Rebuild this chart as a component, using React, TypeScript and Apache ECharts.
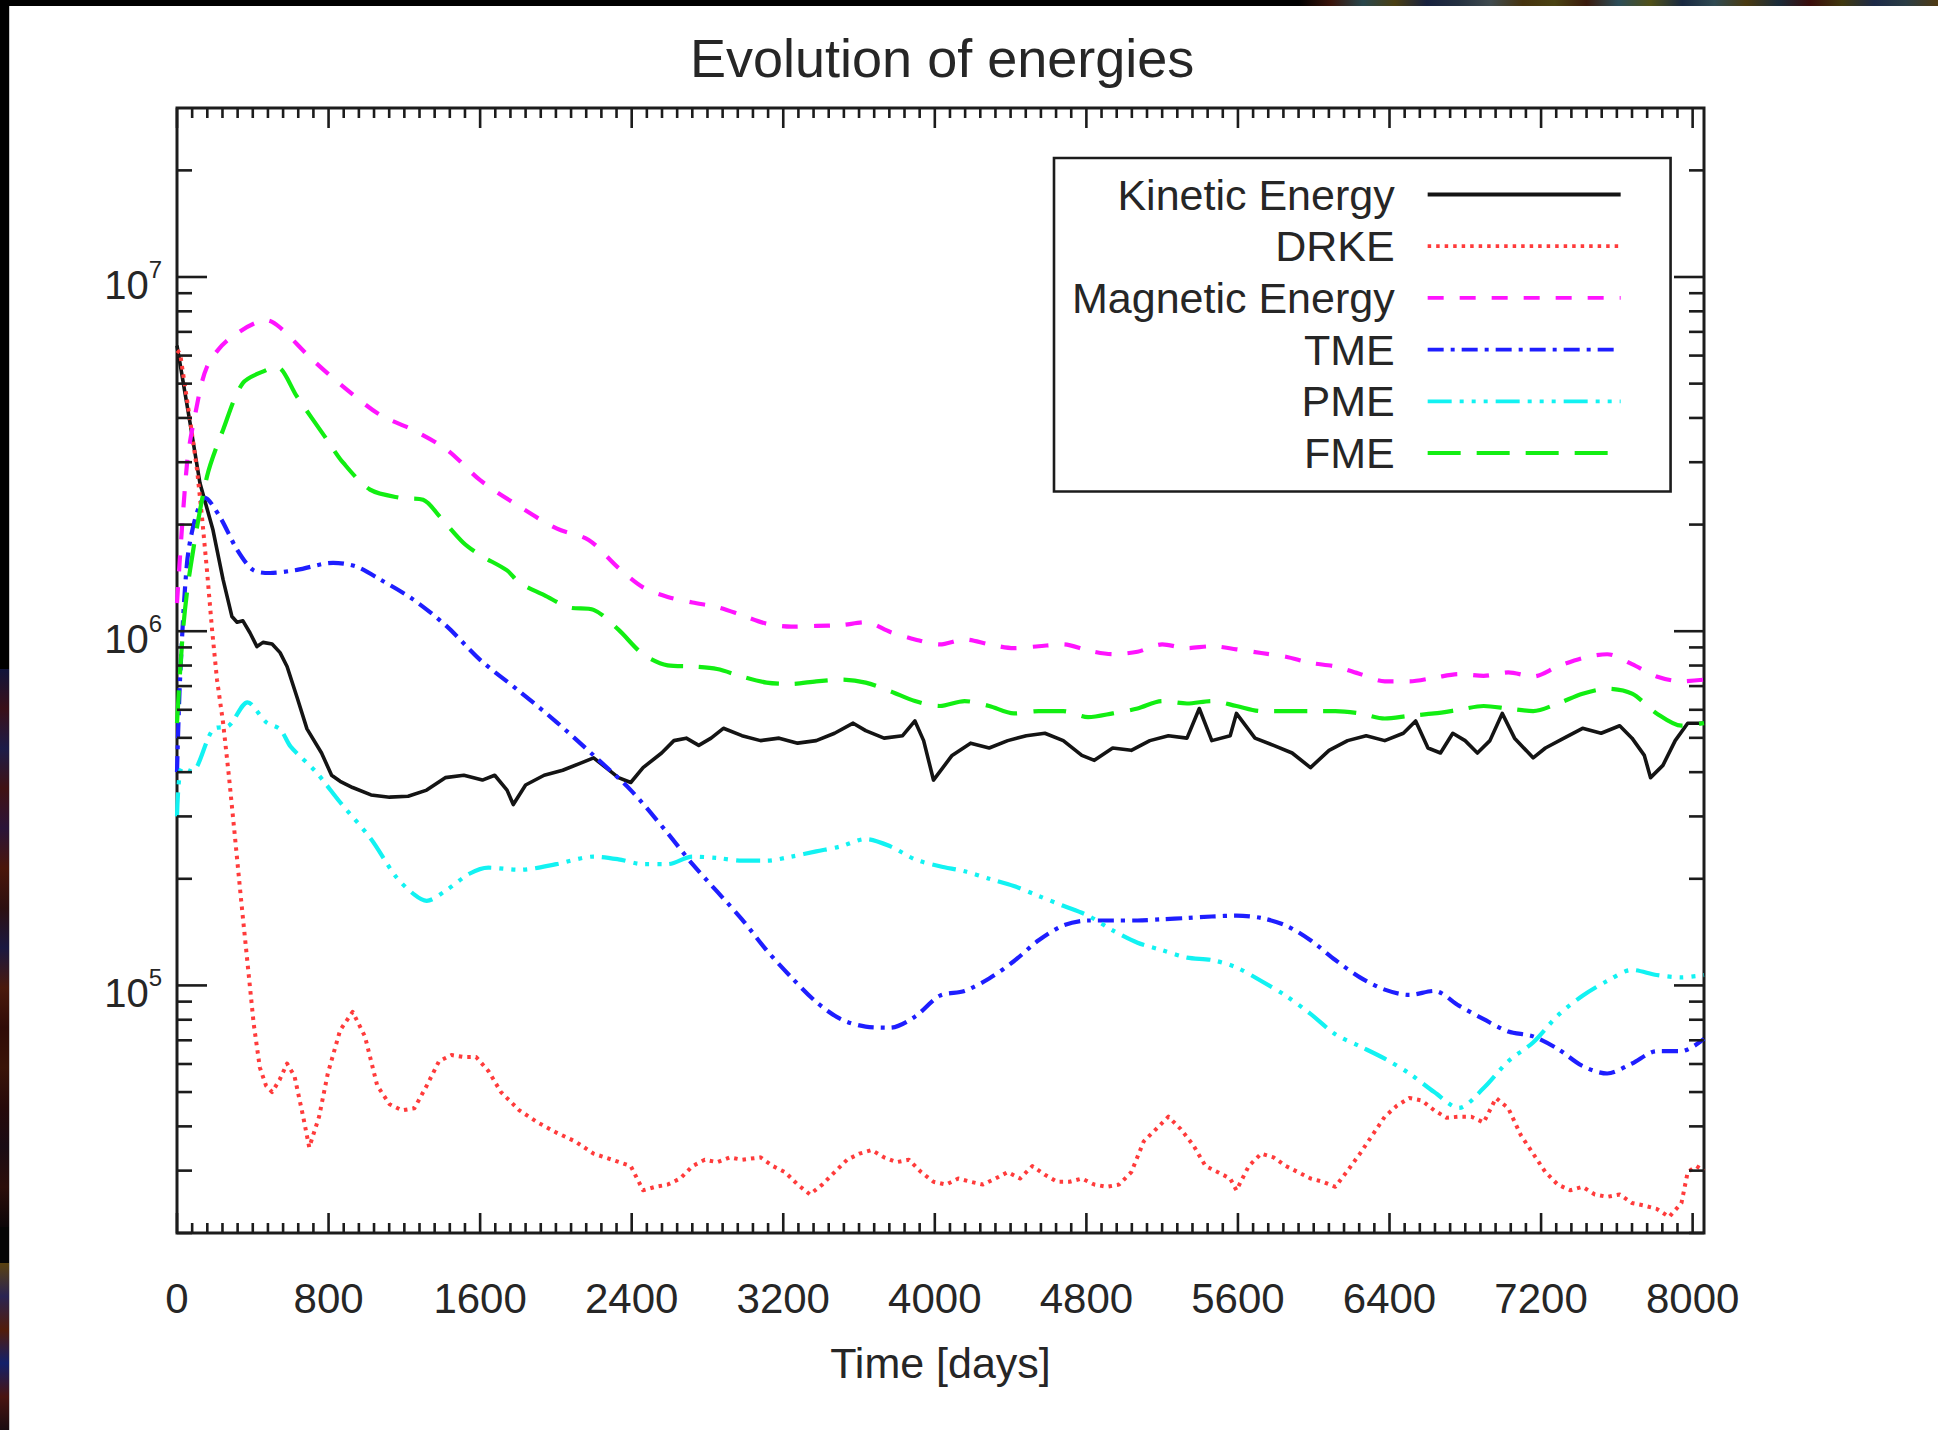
import React, { useEffect, useRef } from 'react';
import * as echarts from 'echarts';

// ---- texts -------------------------------------------------------------
const TITLE = 'Evolution of energies';
const X_NAME = 'Time [days]';
const SERIES_NAMES = ['Kinetic Energy', 'DRKE', 'Magnetic Energy', 'TME', 'PME', 'FME'];

// ---- axes ---------------------------------------------------------------
const X_MIN = 0;
const X_MAX = 8060;
const Y_MIN = 2e4;
const Y_MAX = 3e7;
const xMajorTicks = [0, 800, 1600, 2400, 3200, 4000, 4800, 5600, 6400, 7200, 8000];
const xMinorStep = 80;
const yDecades = [1e4, 1e5, 1e6, 1e7];
const yLabelledExponents = [5, 6, 7];
const yMantissas = [2, 3, 4, 5, 6, 7, 8, 9];

// ---- series values: [time in days, energy] ------------------------------
const kineticEnergy: [number, number][] = [
  [0, 6.4e6], [69, 3.87e6], [121, 2.62e6], [190, 1.93e6], [243, 1.4e6], [290, 1.1e6],
  [317, 1.06e6], [348, 1.07e6], [385, 9.9e5], [422, 9.05e5], [454, 9.3e5], [502, 9.2e5],
  [544, 8.7e5], [581, 7.95e5], [634, 6.5e5], [686, 5.3e5], [763, 4.53e5], [816, 3.92e5],
  [861, 3.77e5], [927, 3.62e5], [1024, 3.45e5], [1122, 3.4e5], [1220, 3.42e5], [1318, 3.56e5],
  [1416, 3.86e5], [1514, 3.92e5], [1612, 3.8e5], [1677, 3.92e5], [1742, 3.56e5], [1775, 3.24e5],
  [1840, 3.68e5], [1938, 3.92e5], [2036, 4.05e5], [2134, 4.25e5], [2199, 4.39e5], [2264, 4.12e5],
  [2330, 3.86e5], [2395, 3.74e5], [2460, 4.12e5], [2558, 4.53e5], [2623, 4.91e5], [2688, 4.99e5],
  [2754, 4.76e5], [2819, 4.99e5], [2884, 5.32e5], [2982, 5.07e5], [3080, 4.91e5], [3178, 4.99e5],
  [3276, 4.83e5], [3374, 4.91e5], [3471, 5.15e5], [3569, 5.5e5], [3635, 5.24e5], [3732, 4.99e5],
  [3830, 5.07e5], [3895, 5.58e5], [3941, 4.91e5], [3993, 3.8e5], [4091, 4.46e5], [4189, 4.83e5],
  [4287, 4.68e5], [4385, 4.91e5], [4483, 5.07e5], [4581, 5.15e5], [4678, 4.91e5], [4776, 4.46e5],
  [4842, 4.32e5], [4939, 4.68e5], [5037, 4.61e5], [5135, 4.91e5], [5233, 5.07e5], [5331, 4.99e5],
  [5396, 6.05e5], [5462, 4.91e5], [5559, 5.07e5], [5592, 5.86e5], [5690, 4.99e5], [5788, 4.76e5],
  [5886, 4.53e5], [5983, 4.12e5], [6081, 4.61e5], [6179, 4.91e5], [6277, 5.07e5], [6375, 4.91e5],
  [6473, 5.15e5], [6538, 5.58e5], [6603, 4.68e5], [6669, 4.53e5], [6734, 5.15e5], [6799, 4.91e5],
  [6864, 4.53e5], [6930, 4.91e5], [6995, 5.86e5], [7060, 4.99e5], [7158, 4.39e5], [7223, 4.68e5],
  [7321, 4.99e5], [7419, 5.32e5], [7517, 5.15e5], [7615, 5.41e5], [7680, 4.99e5], [7745, 4.46e5],
  [7778, 3.86e5], [7843, 4.18e5], [7908, 4.91e5], [7974, 5.5e5], [8060, 5.5e5],
];

const drke: [number, number][] = [
  [0, 6.2e6], [16, 6.1e6], [69, 3.94e6], [106, 2.85e6], [132, 2.1e6], [158, 1.49e6],
  [185, 1.01e6], [211, 7.31e5], [243, 5.53e5], [274, 3.9e5], [307, 2.59e5], [339, 1.73e5],
  [372, 1.16e5], [405, 7.78e4], [437, 5.87e4], [470, 5.21e4], [502, 5.0e4], [542, 5.42e4],
  [581, 6.02e4], [620, 5.55e4], [666, 4.26e4], [698, 3.49e4], [750, 4.26e4], [796, 5.64e4],
  [861, 7.47e4], [927, 8.42e4], [992, 7.18e4], [1057, 5.21e4], [1122, 4.62e4], [1188, 4.44e4],
  [1253, 4.5e4], [1318, 5.21e4], [1383, 6.11e4], [1449, 6.36e4], [1514, 6.28e4], [1579, 6.28e4],
  [1644, 5.73e4], [1710, 5.0e4], [1807, 4.44e4], [1905, 4.1e4], [2003, 3.84e4], [2101, 3.63e4],
  [2199, 3.35e4], [2297, 3.22e4], [2395, 3.09e4], [2460, 2.64e4], [2525, 2.7e4], [2590, 2.74e4],
  [2656, 2.85e4], [2721, 3.09e4], [2786, 3.22e4], [2851, 3.17e4], [2917, 3.27e4], [2982, 3.22e4],
  [3080, 3.27e4], [3145, 3.09e4], [3210, 2.97e4], [3276, 2.74e4], [3341, 2.57e4], [3406, 2.74e4],
  [3471, 2.97e4], [3537, 3.22e4], [3602, 3.35e4], [3667, 3.43e4], [3732, 3.27e4], [3798, 3.17e4],
  [3863, 3.22e4], [3928, 2.97e4], [3993, 2.79e4], [4059, 2.74e4], [4124, 2.85e4], [4189, 2.79e4],
  [4254, 2.74e4], [4320, 2.85e4], [4385, 2.97e4], [4450, 2.85e4], [4515, 3.09e4], [4581, 2.92e4],
  [4646, 2.79e4], [4711, 2.79e4], [4776, 2.85e4], [4842, 2.74e4], [4907, 2.7e4], [4972, 2.74e4],
  [5037, 2.97e4], [5103, 3.63e4], [5168, 3.93e4], [5233, 4.26e4], [5298, 3.93e4], [5364, 3.54e4],
  [5429, 3.09e4], [5494, 2.97e4], [5559, 2.85e4], [5592, 2.64e4], [5657, 3.09e4], [5723, 3.35e4],
  [5788, 3.27e4], [5853, 3.09e4], [5918, 2.97e4], [5983, 2.85e4], [6049, 2.79e4], [6114, 2.7e4],
  [6179, 3.0e4], [6244, 3.35e4], [6310, 3.78e4], [6375, 4.26e4], [6440, 4.58e4], [6505, 4.81e4],
  [6571, 4.73e4], [6636, 4.44e4], [6701, 4.23e4], [6766, 4.26e4], [6832, 4.26e4], [6897, 4.1e4],
  [6962, 4.81e4], [7027, 4.5e4], [7093, 3.78e4], [7158, 3.35e4], [7223, 2.97e4], [7288, 2.74e4],
  [7354, 2.64e4], [7419, 2.7e4], [7484, 2.57e4], [7549, 2.53e4], [7615, 2.57e4], [7680, 2.43e4],
  [7745, 2.39e4], [7810, 2.34e4], [7876, 2.22e4], [7941, 2.43e4], [7974, 2.97e4], [8020, 3.09e4],
  [8060, 3.0e4],
];

const magneticEnergy: [number, number][] = [
  [0, 1.2e6], [53, 2.98e6], [95, 4.07e6], [158, 5.57e6], [269, 6.64e6], [475, 7.55e6],
  [544, 7.2e6], [718, 5.82e6], [898, 4.8e6], [1072, 4.08e6], [1246, 3.7e6], [1426, 3.25e6],
  [1600, 2.67e6], [1807, 2.25e6], [2003, 1.95e6], [2173, 1.81e6], [2330, 1.51e6], [2460, 1.33e6],
  [2590, 1.25e6], [2721, 1.205e6], [2851, 1.17e6], [2982, 1.11e6], [3112, 1.05e6], [3243, 1.03e6],
  [3374, 1.035e6], [3504, 1.04e6], [3635, 1.06e6], [3765, 9.95e5], [3895, 9.48e5], [4026, 9.18e5],
  [4157, 9.48e5], [4287, 9.18e5], [4417, 8.96e5], [4548, 9.07e5], [4678, 9.18e5], [4809, 8.82e5],
  [4939, 8.61e5], [5070, 8.75e5], [5200, 9.18e5], [5331, 8.96e5], [5462, 9.07e5], [5592, 8.89e5],
  [5723, 8.68e5], [5853, 8.47e5], [5983, 8.14e5], [6114, 7.95e5], [6244, 7.57e5], [6375, 7.22e5],
  [6505, 7.22e5], [6636, 7.39e5], [6766, 7.57e5], [6897, 7.48e5], [7027, 7.65e5], [7158, 7.45e5],
  [7288, 7.95e5], [7419, 8.4e5], [7549, 8.61e5], [7680, 8.07e5], [7810, 7.45e5], [7941, 7.22e5],
  [8060, 7.3e5],
];

const tme: [number, number][] = [
  [0, 4.0e5], [16, 7.3e5], [53, 1.56e6], [95, 2.07e6], [148, 2.38e6], [227, 2.1e6],
  [317, 1.7e6], [401, 1.49e6], [491, 1.46e6], [634, 1.49e6], [824, 1.56e6], [950, 1.52e6],
  [1072, 1.4e6], [1246, 1.23e6], [1426, 1.03e6], [1600, 8.3e5], [1807, 6.77e5], [2003, 5.54e5],
  [2199, 4.46e5], [2395, 3.56e5], [2590, 2.69e5], [2721, 2.2e5], [2982, 1.537e5], [3112, 1.257e5],
  [3243, 1.054e5], [3374, 8.98e4], [3504, 8.03e4], [3635, 7.65e4], [3765, 7.6e4], [3895, 8.16e4],
  [4026, 9.35e4], [4157, 9.65e4], [4287, 1.046e5], [4417, 1.17e5], [4548, 1.341e5], [4678, 1.476e5],
  [4809, 1.525e5], [4939, 1.525e5], [5070, 1.525e5], [5200, 1.537e5], [5331, 1.55e5], [5462, 1.565e5],
  [5592, 1.574e5], [5723, 1.55e5], [5853, 1.476e5], [5983, 1.341e5], [6114, 1.18e5], [6244, 1.054e5],
  [6375, 9.73e4], [6505, 9.4e4], [6636, 9.65e4], [6766, 8.77e4], [6897, 8.03e4], [7027, 7.41e4],
  [7158, 7.18e4], [7288, 6.62e4], [7419, 5.92e4], [7549, 5.64e4], [7680, 6.02e4], [7810, 6.52e4],
  [7941, 6.52e4], [8060, 7.06e4],
];

const pme: [number, number][] = [
  [0, 3.0e5], [26, 4.12e5], [78, 4.02e5], [190, 5.28e5], [274, 5.41e5], [372, 6.3e5],
  [470, 5.54e5], [545, 5.28e5], [600, 4.72e5], [731, 4.02e5], [861, 3.29e5], [1024, 2.59e5],
  [1155, 2.03e5], [1253, 1.804e5], [1318, 1.733e5], [1416, 1.848e5], [1546, 2.07e5], [1644, 2.15e5],
  [1807, 2.12e5], [2003, 2.2e5], [2199, 2.31e5], [2330, 2.27e5], [2460, 2.2e5], [2590, 2.2e5],
  [2721, 2.31e5], [2851, 2.29e5], [2982, 2.25e5], [3112, 2.25e5], [3243, 2.31e5], [3374, 2.39e5],
  [3504, 2.47e5], [3635, 2.59e5], [3765, 2.47e5], [3895, 2.27e5], [4026, 2.17e5], [4157, 2.1e5],
  [4287, 2.0e5], [4417, 1.908e5], [4548, 1.789e5], [4678, 1.678e5], [4809, 1.574e5], [4939, 1.43e5],
  [5070, 1.32e5], [5200, 1.257e5], [5331, 1.198e5], [5462, 1.18e5], [5592, 1.124e5], [5723, 1.029e5],
  [5853, 9.35e4], [5983, 8.31e4], [6114, 7.28e4], [6244, 6.73e4], [6375, 6.21e4], [6505, 5.64e4],
  [6636, 5.0e4], [6766, 4.51e4], [6897, 5.13e4], [7027, 6.11e4], [7158, 6.9e4], [7288, 8.22e4],
  [7419, 9.35e4], [7549, 1.029e5], [7680, 1.106e5], [7810, 1.07e5], [7941, 1.054e5], [8060, 1.07e5],
];

const fme: [number, number][] = [
  [0, 5.5e5], [32, 1.01e6], [69, 1.49e6], [158, 2.73e6], [243, 3.7e6], [348, 5.02e6],
  [475, 5.47e6], [528, 5.57e6], [634, 4.59e6], [792, 3.47e6], [877, 2.99e6], [1019, 2.51e6],
  [1178, 2.38e6], [1299, 2.35e6], [1389, 2.1e6], [1510, 1.78e6], [1600, 1.64e6], [1742, 1.485e6],
  [1807, 1.37e6], [1938, 1.265e6], [2068, 1.168e6], [2199, 1.149e6], [2330, 1.01e6], [2460, 8.61e5],
  [2590, 8.01e5], [2721, 7.95e5], [2851, 7.82e5], [2982, 7.45e5], [3112, 7.16e5], [3243, 7.1e5],
  [3374, 7.22e5], [3504, 7.3e5], [3635, 7.16e5], [3765, 6.77e5], [3895, 6.35e5], [4026, 6.15e5],
  [4157, 6.35e5], [4287, 6.15e5], [4417, 5.86e5], [4548, 5.95e5], [4678, 5.95e5], [4809, 5.72e5],
  [4939, 5.86e5], [5070, 6.05e5], [5200, 6.35e5], [5331, 6.25e5], [5462, 6.35e5], [5592, 6.15e5],
  [5723, 5.95e5], [5853, 5.95e5], [5983, 5.95e5], [6114, 5.95e5], [6244, 5.86e5], [6375, 5.67e5],
  [6505, 5.77e5], [6636, 5.86e5], [6766, 6.0e5], [6897, 6.15e5], [7027, 6.05e5], [7158, 5.95e5],
  [7288, 6.25e5], [7419, 6.66e5], [7549, 6.88e5], [7680, 6.66e5], [7810, 5.86e5], [7941, 5.41e5],
  [8060, 5.5e5],
];

// ---- styling -------------------------------------------------------------
const FONT = '"Liberation Sans", Arial, Helvetica, sans-serif';
const INK = '#1c1c1c';
const TEXT = '#262626';

const seriesStyles = [
  { color: '#141414', width: 3.6, type: 'solid' as any, smooth: false },
  { color: '#ff3b3b', width: 4, type: [3.5, 5], smooth: false },
  { color: '#ff14ff', width: 4.2, type: [16, 16], smooth: 0.3 },
  { color: '#1e1eff', width: 4.2, type: [16, 7, 4, 7], smooth: 0.3 },
  { color: '#12f2f2', width: 4.2, type: [24, 8, 4, 8, 4, 8, 4, 8], smooth: 0.3 },
  { color: '#12ee12', width: 4.2, type: [33, 16], smooth: 0.3 },
];
const seriesData = [kineticEnergy, drke, magneticEnergy, tme, pme, fme];

// Tick marks drawn inside the frame on all four sides
function buildXTicks(): [number, number, number][] {
  const out: [number, number, number][] = [];
  for (let i = 0; i < xMajorTicks.length; i++) {
    const m = xMajorTicks[i];
    out.push([m, 1e5, 20]);
    if (i < xMajorTicks.length - 1) {
      for (let t = m + xMinorStep; t < xMajorTicks[i + 1]; t += xMinorStep) out.push([t, 1e5, 10]);
    }
  }
  return out;
}
function buildYTicks(): [number, number, number][] {
  const out: [number, number, number][] = [];
  yDecades.forEach((d) => {
    if (d >= Y_MIN && d <= Y_MAX) out.push([X_MIN, d, 30]);
    yMantissas.forEach((m) => {
      const v = m * d;
      if (v >= Y_MIN && v < Y_MAX) out.push([X_MIN, v, 15]);
    });
  });
  return out;
}

const tickStyle = { stroke: INK, lineWidth: 2.6 };

function makeOption(): echarts.EChartsCoreOption {
  const topStops = [
    '#000000', '#3a140a', '#28464c', '#4a3e12', '#17213e', '#243040', '#3f4a4e', '#46330e',
    '#4a4212', '#3a1a0c', '#2c4d58', '#505018', '#182840', '#2f4a52', '#4a3a10', '#1a2c3a',
    '#3a0c0a', '#40380e', '#1c2a48', '#2a3c44', '#503a12',
  ];
  const leftStops = [
    '#10143a', '#3a1018', '#1c1c48', '#401212', '#2a1438', '#4a160a', '#2c1010', '#1a1840',
    '#4a1a0c', '#300c08', '#3a1408', '#260a0a', '#1a0c14', '#2c0e0a', '#0c0608',
  ];
  const leftStops2 = ['#5a4210', '#2a2452', '#521c0a', '#12206a', '#4a1410', '#1a0c10'];
  const grad = (stops: string[], vertical: boolean) => ({
    type: 'linear', x: 0, y: 0, x2: vertical ? 0 : 1, y2: vertical ? 1 : 0,
    colorStops: stops.map((c, i) => ({ offset: i / (stops.length - 1), color: c })),
  });

  return {
    animation: false,
    backgroundColor: '#ffffff',
    title: {
      text: TITLE,
      left: 690,
      top: 31,
      padding: 0,
      textStyle: { fontFamily: FONT, fontSize: 54, fontWeight: 'normal', color: TEXT },
    },
    legend: {
      data: SERIES_NAMES,
      orient: 'vertical',
      left: 1054,
      top: 158,
      align: 'right',
      itemWidth: 193,
      itemHeight: 20,
      itemGap: 8.7,
      padding: [15, 48, 17, 18],
      borderColor: INK,
      borderWidth: 2.6,
      backgroundColor: '#ffffff',
      selectedMode: false,
      itemStyle: { opacity: 0, color: 'rgba(0,0,0,0)', borderWidth: 0 },
      lineStyle: { width: 3.8 },
      formatter: '{n|{name}}',
      textStyle: {
        fontFamily: FONT,
        fontSize: 43,
        color: TEXT,
        rich: {
          n: { fontFamily: FONT, fontSize: 43, color: TEXT, lineHeight: 44, padding: [0, 28, 0, 0] },
        },
      },
    },
    grid: {
      left: 177,
      top: 108,
      width: 1527,
      height: 1125,
      show: true,
      borderColor: INK,
      borderWidth: 3,
      backgroundColor: 'transparent',
    },
    xAxis: {
      type: 'value',
      min: X_MIN,
      max: X_MAX,
      interval: 800,
      name: X_NAME,
      nameLocation: 'middle',
      nameGap: 108,
      nameTextStyle: { fontFamily: FONT, fontSize: 43, color: TEXT },
      axisLine: { show: false },
      axisTick: { show: false },
      splitLine: { show: false },
      axisLabel: {
        margin: 44,
        fontFamily: FONT,
        fontSize: 42,
        color: TEXT,
        formatter: (v: number) => (xMajorTicks.indexOf(v) >= 0 ? String(v) : ''),
      },
    },
    yAxis: {
      type: 'log',
      logBase: 10,
      min: Y_MIN,
      max: Y_MAX,
      axisLine: { show: false },
      axisTick: { show: false },
      splitLine: { show: false },
      axisLabel: {
        margin: 15,
        formatter: (v: number) => {
          const e = Math.log10(v);
          const r = Math.round(e);
          if (Math.abs(e - r) > 1e-6 || yLabelledExponents.indexOf(r) < 0) return '';
          return `{b|10}{s|${r}}`;
        },
        rich: {
          b: { fontFamily: FONT, fontSize: 40, color: TEXT, lineHeight: 40, padding: [16, 0, 0, 0] },
          s: { fontFamily: FONT, fontSize: 24, color: TEXT, lineHeight: 24, verticalAlign: 'top' },
        },
      },
    },
    graphic: [
      { type: 'rect', silent: true, shape: { x: 0, y: 0, width: 1299, height: 6 }, style: { fill: '#000' } },
      { type: 'rect', silent: true, shape: { x: 1299, y: 0, width: 639, height: 6 }, style: { fill: grad(topStops, false) } },
      { type: 'rect', silent: true, shape: { x: 0, y: 0, width: 9, height: 669 }, style: { fill: '#000' } },
      { type: 'rect', silent: true, shape: { x: 0, y: 669, width: 9, height: 558 }, style: { fill: grad(leftStops, true) } },
      { type: 'rect', silent: true, shape: { x: 0, y: 1227, width: 9, height: 36 }, style: { fill: '#050505' } },
      { type: 'rect', silent: true, shape: { x: 0, y: 1263, width: 9, height: 167 }, style: { fill: grad(leftStops2, true) } },
      { type: 'rect', silent: true, shape: { x: 9, y: 6, width: 1, height: 1424 }, style: { fill: '#c8c8c8' } },
    ],
    series: [
      ...SERIES_NAMES.map((name, i) => ({
        name,
        type: 'line',
        data: seriesData[i],
        showSymbol: false,
        symbol: 'none',
        smooth: seriesStyles[i].smooth,
        clip: true,
        z: 2 + i,
        lineStyle: {
          color: seriesStyles[i].color,
          width: seriesStyles[i].width,
          type: seriesStyles[i].type,
          cap: 'butt',
          join: 'round',
        },
        itemStyle: { color: seriesStyles[i].color },
        emphasis: { disabled: true },
      })),
      {
        name: 'xTicks',
        type: 'custom',
        silent: true,
        z: 20,
        data: buildXTicks(),
        renderItem: (params: any, api: any) => {
          const cs = params.coordSys;
          const px = api.coord([api.value(0), Y_MIN * 10])[0];
          const len = api.value(2);
          const top = cs.y;
          const bottom = cs.y + cs.height;
          return {
            type: 'group',
            children: [
              { type: 'line', shape: { x1: px, y1: bottom, x2: px, y2: bottom - len }, style: tickStyle },
              { type: 'line', shape: { x1: px, y1: top, x2: px, y2: top + len }, style: tickStyle },
            ],
          };
        },
      },
      {
        name: 'yTicks',
        type: 'custom',
        silent: true,
        z: 20,
        data: buildYTicks(),
        renderItem: (params: any, api: any) => {
          const cs = params.coordSys;
          const py = api.coord([X_MIN, api.value(1)])[1];
          const len = api.value(2);
          const left = cs.x;
          const right = cs.x + cs.width;
          return {
            type: 'group',
            children: [
              { type: 'line', shape: { x1: left, y1: py, x2: left + len, y2: py }, style: tickStyle },
              { type: 'line', shape: { x1: right, y1: py, x2: right - len, y2: py }, style: tickStyle },
            ],
          };
        },
      },
    ],
  };
}

export default function App() {
  const ref = useRef<HTMLDivElement>(null);
  useEffect(() => {
    if (!ref.current) return;
    const chart = echarts.init(ref.current, undefined, { renderer: 'svg' });
    chart.setOption(makeOption());
    return () => chart.dispose();
  }, []);
  return (
    <div style={{ position: 'absolute', left: 0, top: 0, width: 1938, height: 1430, background: '#fff' }}>
      <div ref={ref} style={{ width: 1938, height: 1430 }} />
    </div>
  );
}
